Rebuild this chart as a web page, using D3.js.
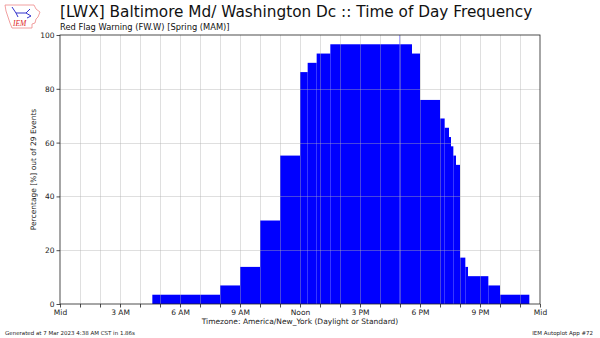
<!DOCTYPE html>
<html><head><meta charset="utf-8">
<script src="https://cdn.jsdelivr.net/npm/d3@7"></script>
<style>body{margin:0;background:#fff}svg{display:block;font-family:"DejaVu Sans",sans-serif}</style>
</head><body>
<script>
// Step breakpoints (minute of day) and event counts starting at each breakpoint
const stepMinutes = [0, 277, 480, 540, 600, 660, 720, 743, 770, 811, 1019, 1020, 1056, 1080, 1140, 1154, 1167, 1173, 1180, 1188, 1200, 1216, 1224, 1285, 1320, 1408];
const stepCounts  = [0, 1, 2, 4, 9, 16, 25, 26, 27, 28, 29, 28, 27, 22, 20, 19, 18, 17, 16, 15, 5, 4, 3, 2, 1, 0];
const totalEvents = 29;
const xTickHours = [0, 3, 6, 9, 12, 15, 18, 21, 24];
const xTickLabels = ["Mid", "3 AM", "6 AM", "9 AM", "Noon", "3 PM", "6 PM", "9 PM", "Mid"];
const yTicks = [0, 20, 40, 60, 80, 100];

const W = 600, H = 338;
const svg = d3.select("body").append("svg").attr("width", W).attr("height", H);
const x = d3.scaleLinear().domain([0, 1440]).range([60, 540]);
const y = d3.scaleLinear().domain([0, 100]).range([304, 35]);

// bars
const segs = stepMinutes.map((m, i) => ({
  x0: m, x1: i < stepMinutes.length - 1 ? stepMinutes[i + 1] : 1440,
  v: stepCounts[i] / totalEvents * 100
})).filter(d => d.v > 0);
svg.append("g").selectAll("rect").data(segs).join("rect")
  .attr("x", d => x(d.x0)).attr("width", d => Math.max(0.4, x(d.x1) - x(d.x0)))
  .attr("y", d => y(d.v)).attr("height", d => y(0) - y(d.v))
  .attr("fill", "#0000ff");

// grid
const grid = svg.append("g").attr("stroke", "#b0b0b0").attr("stroke-opacity", 0.5).attr("stroke-width", 0.8);
grid.selectAll("line.v").data(d3.range(1, 24)).join("line")
  .attr("x1", h => Math.round(x(h * 60)) + 0.5).attr("x2", h => Math.round(x(h * 60)) + 0.5)
  .attr("y1", y(100)).attr("y2", y(0));
grid.selectAll("line.h").data(yTicks.slice(1, -1)).join("line")
  .attr("y1", v => Math.round(y(v)) + 0.5).attr("y2", v => Math.round(y(v)) + 0.5)
  .attr("x1", x(0)).attr("x2", x(1440));

// axes
const xAxis = d3.axisBottom(x).tickValues(d3.range(0, 25).map(h => h * 60))
  .tickFormat(m => { const i = xTickHours.indexOf(m / 60); return i >= 0 ? xTickLabels[i] : ""; })
  .tickSize(3.5).tickPadding(2);
const gx = svg.append("g").attr("transform", `translate(0,${y(0)})`).call(xAxis);
const yAxis = d3.axisLeft(y).tickValues(yTicks).tickSize(3.5).tickPadding(2);
const gy = svg.append("g").attr("transform", `translate(${x(0)},0)`).call(yAxis);
[gx, gy].forEach(g => {
  g.select(".domain").remove();
  g.selectAll(".tick line").attr("stroke", "#222").attr("stroke-width", 0.8);
  g.selectAll(".tick text").attr("fill", "#222").style("font-size", "7.5px").style("font-family", "DejaVu Sans");
});
// frame
svg.append("rect").attr("x", x(0)).attr("y", y(100)).attr("width", x(1440) - x(0)).attr("height", y(0) - y(100))
  .attr("fill", "none").attr("stroke", "#222").attr("stroke-width", 0.8);

// labels
svg.append("text").attr("x", 60).attr("y", 17).attr("fill", "#111").style("font-size", "15.3px")
  .text("[LWX] Baltimore Md/ Washington Dc :: Time of Day Frequency");
svg.append("text").attr("x", 60).attr("y", 29.5).attr("fill", "#111").style("font-size", "8.3px")
  .text("Red Flag Warning (FW.W) [Spring (MAM)]");
svg.append("text").attr("transform", `translate(36,${(y(0) + y(100)) / 2}) rotate(-90)`)
  .attr("text-anchor", "middle").attr("fill", "#222").style("font-size", "7.5px")
  .text("Percentage [%] out of 29 Events");
svg.append("text").attr("x", 300).attr("y", 324).attr("text-anchor", "middle").attr("fill", "#222").style("font-size", "7.5px")
  .text("Timezone: America/New_York (Daylight or Standard)");
svg.append("text").attr("x", 5).attr("y", 335).attr("fill", "#222").style("font-size", "5.5px")
  .text("Generated at 7 Mar 2023 4:38 AM CST in 1.86s");
svg.append("text").attr("x", 593).attr("y", 335).attr("text-anchor", "end").attr("fill", "#222").style("font-size", "5.5px")
  .text("IEM Autoplot App #72");

// logo
const logo = svg.append("g").attr("transform", "translate(4,3)");
logo.append("path").attr("d", "M1,2 L30,2 L32,6 L36,9 L34,14 L32,16 L31,20 L28,21 L28,25 L8,25 L6,20 L4,14 L2,8 Z")
  .attr("fill", "none").attr("stroke", "#e88").attr("stroke-width", 0.8);
logo.append("path").attr("d", "M8,4 L12,10 L22,10 L26,6 M12,10 L14,14 M22,10 L27,13 L23,15")
  .attr("fill", "none").attr("stroke", "#33c").attr("stroke-width", 1);
logo.append("text").attr("x", 9).attr("y", 23).attr("fill", "#d22").style("font-size", "7.5px")
  .style("font-style", "italic").style("font-family", "Liberation Serif").text("IEM");
</script>
</body></html>
